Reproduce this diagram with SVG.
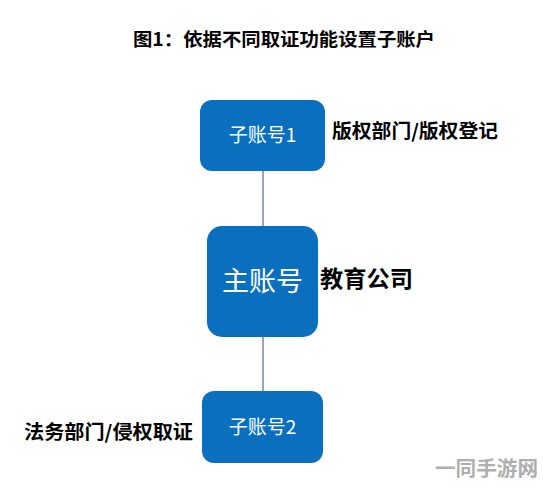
<svg xmlns="http://www.w3.org/2000/svg" width="543" height="487" viewBox="0 0 543 487">
<style>
.box{fill:#0B6FC0;}
.bt{fill:#ffffff;font-family:"Noto Sans CJK SC","Noto Sans",sans-serif;text-anchor:middle;}
.lbl{fill:#000000;font-family:"Noto Sans CJK SC","Noto Sans",sans-serif;font-weight:bold;}
.conn{stroke:#2E4A7A;stroke-width:1;fill:none;}
</style>
<rect width="543" height="487" fill="#ffffff"/>
<text class="lbl" x="133" y="46" font-size="18" textLength="302" lengthAdjust="spacingAndGlyphs">图1：依据不同取证功能设置子账户</text>
<g id="connectors">
<line class="conn" x1="263" y1="171" x2="263" y2="226"/>
<line class="conn" x1="263" y1="337" x2="263" y2="391"/>
</g>
<g id="sub1">
<rect class="box" x="200" y="100" width="125" height="71" rx="12"/>
<text class="bt" x="262.5" y="142" font-size="19">子账号1</text>
</g>
<g id="sub1-label">
<text class="lbl" x="332" y="138" font-size="19" textLength="166" lengthAdjust="spacingAndGlyphs">版权部门/版权登记</text>
</g>
<g id="main">
<rect class="box" x="207" y="226" width="111" height="111" rx="15"/>
<text class="bt" x="262.5" y="291" font-size="27">主账号</text>
</g>
<g id="main-label">
<text class="lbl" x="320" y="287" font-size="23" textLength="93" lengthAdjust="spacingAndGlyphs">教育公司</text>
</g>
<g id="sub2">
<rect class="box" x="202" y="391" width="121" height="72" rx="12"/>
<text class="bt" x="262.5" y="434" font-size="19">子账号2</text>
</g>
<g id="sub2-label">
<text class="lbl" x="24" y="439" font-size="19" textLength="169" lengthAdjust="spacingAndGlyphs">法务部门/侵权取证</text>
</g>
<text x="435" y="476" font-size="20" font-weight="bold" fill="#9a9a9a" opacity="0.8" font-family="'Noto Sans CJK SC',sans-serif" textLength="103" lengthAdjust="spacingAndGlyphs">一同手游网</text>
</svg>
